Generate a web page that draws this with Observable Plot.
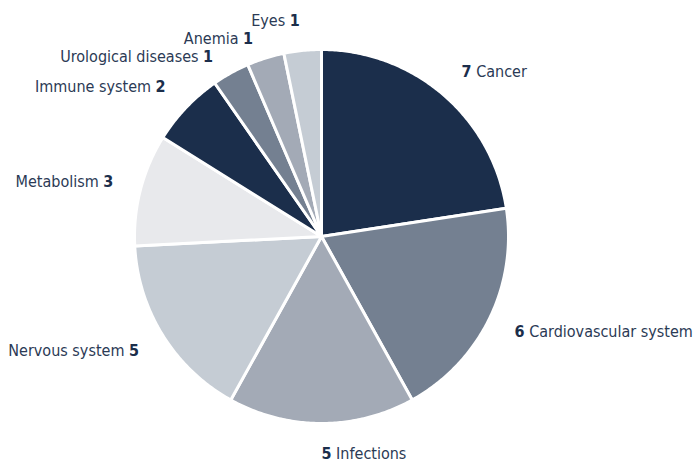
<!DOCTYPE html>
<html><head><meta charset="utf-8">
<script src="https://cdn.jsdelivr.net/npm/d3@7"></script>
<script src="https://cdn.jsdelivr.net/npm/@observablehq/plot@0.6"></script>
<style>
body{margin:0;background:#fff}
#chart svg{display:block}
</style></head><body><div id="chart"></div>
<script>
const categories = ["Cancer","Cardiovascular system","Infections","Nervous system","Metabolism","Immune system","Urological diseases","Anemia","Eyes"];
const values = [7,6,5,5,3,2,1,1,1];
const colors = ["#1b2e4b","#748091","#a3aab6","#c5ccd4","#e8e9ec","#1b2e4b","#748091","#a3aab6","#c5ccd4"];

const R = 187; // pie radius in px
const arcs = d3.pie().sort(null).value(d => d)(values);
const slices = [];
const labels = [];
arcs.forEach((p, i) => {
  const name = categories[i];
  const n = Math.max(4, Math.ceil((p.endAngle - p.startAngle) / 0.01));
  slices.push({name, x: 0, y: 0});
  for (let k = 0; k <= n; k++) {
    const a = p.startAngle + (p.endAngle - p.startAngle) * k / n;
    slices.push({name, x: Math.sin(a), y: Math.cos(a)});
  }
  slices.push({name, x: 0, y: 0});
  const m = (p.startAngle + p.endAngle) / 2;
  const lx = 1.15 * Math.sin(m), ly = 1.16 * Math.cos(m);
  const right = lx > -0.01;
  labels.push({x: lx, y: ly, anchor: right ? "start" : "end",
    text: right ? `${values[i]} ${name}` : `${name} ${values[i]}`});
});
// simple collision avoidance on the left side: keep labels apart vertically
const left = labels.filter(d => d.anchor === "end").sort((a, b) => b.y - a.y);
for (let i = 1; i < left.length; i++) {
  const minGap = 18 / R;
  if (left[i - 1].y - left[i].y < minGap) {
    left[i].y = left[i - 1].y - minGap;
    left[i].x -= 4 / R;
  }
}

const chart = Plot.plot({
  width: 698, height: 462,
  marginLeft: 134, marginRight: 190, marginTop: 49, marginBottom: 39,
  x: {domain: [-1, 1], axis: null},
  y: {domain: [-1, 1], axis: null},
  color: {domain: categories, range: colors},
  style: {fontFamily: "'Liberation Sans Narrow','DejaVu Sans Condensed',sans-serif", fontSize: "16px", background: "#fff"},
  marks: [
    Plot.line(slices, {x: "x", y: "y", z: "name", fill: "name", stroke: "white", strokeWidth: 3, strokeLinejoin: "round"}),
    Plot.text(labels.filter(d => d.anchor === "start"), {x: "x", y: "y", text: "text", textAnchor: "start", fill: "#2b3a55", fontSize: 16}),
    Plot.text(left, {x: "x", y: "y", text: "text", textAnchor: "end", fill: "#2b3a55", fontSize: 16})
  ]
});
document.getElementById("chart").appendChild(chart);

d3.select(chart).selectAll("text").each(function() {
  const t = d3.select(this);
  const s = t.text();
  let parts;
  let mm = s.match(/^(\d+) (.*)$/);
  if (mm) parts = [[mm[1], true], [" " + mm[2], false]];
  else { mm = s.match(/^(.*) (\d+)$/); parts = mm ? [[mm[1] + " ", false], [mm[2], true]] : [[s, false]]; }
  t.text(null);
  parts.forEach(([str, bold]) => {
    t.append("tspan").attr("font-weight", bold ? "bold" : "normal").attr("fill", bold ? "#1b2e4b" : "#2b3a55").text(str);
  });
});
</script></body></html>
